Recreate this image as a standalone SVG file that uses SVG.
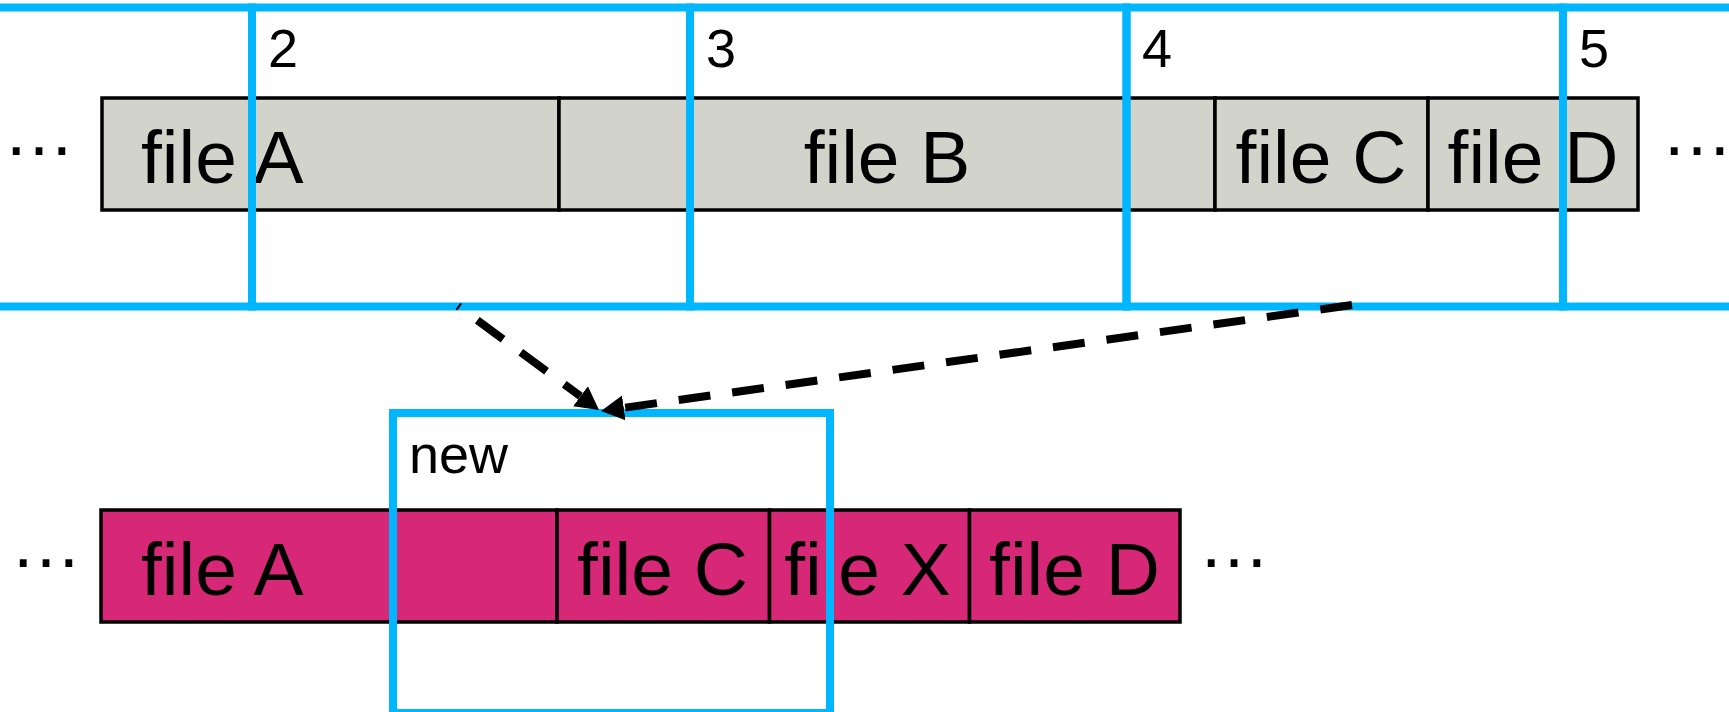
<svg xmlns="http://www.w3.org/2000/svg" width="1729" height="712" viewBox="0 0 1729 712">
<style>
.bg{fill:#ffffff}
.gray{fill:#D2D3CA;stroke:#000;stroke-width:3.5}
.pink{fill:#D62876;stroke:#000;stroke-width:3.5}
.blk{fill:none;stroke:#00B6FF;stroke-width:8}
.big{font-family:"Liberation Sans",Arial,sans-serif;font-size:75px;fill:#000}
.dots{font-family:"Liberation Sans",Arial,sans-serif;font-size:72px;fill:#000}
.mid{text-anchor:middle}
.lbl{font-family:"Liberation Sans",Arial,sans-serif;font-size:54px;fill:#000}
.conn{fill:none;stroke:#000;stroke-width:8;stroke-dasharray:32 22}
</style>
<defs>
<marker id="head" markerUnits="userSpaceOnUse" markerWidth="24" markerHeight="26" refX="0" refY="12.5" orient="auto" viewBox="0 0 24 25">
<path d="M0,0 L23,12.5 L0,25 z" fill="#000"/>
</marker>
</defs>
<rect class="bg" x="0" y="0" width="1729" height="712"/>

<g id="old-row">
<g id="old-fileA"><rect class="gray" x="102" y="98" width="457" height="112"/><text class="big" x="141" y="183">file A</text></g>
<g id="old-fileB"><rect class="gray" x="559" y="98" width="656" height="112"/><text class="big mid" x="887" y="183">file B</text></g>
<g id="old-fileC"><rect class="gray" x="1215" y="98" width="213" height="112"/><text class="big mid" x="1321" y="183">file C</text></g>
<g id="old-fileD"><rect class="gray" x="1428" y="98" width="210" height="112"/><text class="big mid" x="1533" y="183">file D</text></g>
<text id="old-dots-left" class="dots" x="3" y="155">…</text>
<text id="old-dots-right" class="dots" x="1661" y="155">…</text>
</g>

<g id="blocks">
<g id="block-1"><rect class="blk" x="-20" y="7.5" width="272" height="299"/></g>
<g id="block-2"><rect class="blk" x="252" y="7.5" width="438" height="299"/><text class="lbl" x="268" y="67">2</text></g>
<g id="block-3"><rect class="blk" x="690" y="7.5" width="436.5" height="299"/><text class="lbl" x="706" y="67">3</text></g>
<g id="block-4"><rect class="blk" x="1126.5" y="7.5" width="436.5" height="299"/><text class="lbl" x="1142" y="67">4</text></g>
<g id="block-5"><rect class="blk" x="1563" y="7.5" width="200" height="299"/><text class="lbl" x="1579" y="67">5</text></g>
</g>

<g id="new-row">
<g id="new-fileA"><rect class="pink" x="101" y="510" width="456" height="112"/><text class="big" x="141" y="595">file A</text></g>
<g id="new-fileC"><rect class="pink" x="557" y="510" width="212.5" height="112"/><text class="big mid" x="662.5" y="595">file C</text></g>
<g id="new-fileX"><rect class="pink" x="769.5" y="510" width="200" height="112"/><text class="big mid" x="867.5" y="595">file X</text></g>
<g id="new-fileD"><rect class="pink" x="969.5" y="510" width="210.5" height="112"/><text class="big mid" x="1074.5" y="595">file D</text></g>
<text id="new-dots-left" class="dots" x="10" y="567">…</text>
<text id="new-dots-right" class="dots" x="1198" y="567">…</text>
</g>

<g id="block-new"><rect class="blk" x="393" y="413" width="437" height="300"/><text class="lbl" x="409" y="473">new</text></g>

<g id="connectors">
<line class="conn" x1="458" y1="306" x2="580.5" y2="396.3" stroke-dashoffset="30" marker-end="url(#head)"/>
<line class="conn" x1="1352" y1="305" x2="623.8" y2="407.8" marker-end="url(#head)"/>
</g>
</svg>
